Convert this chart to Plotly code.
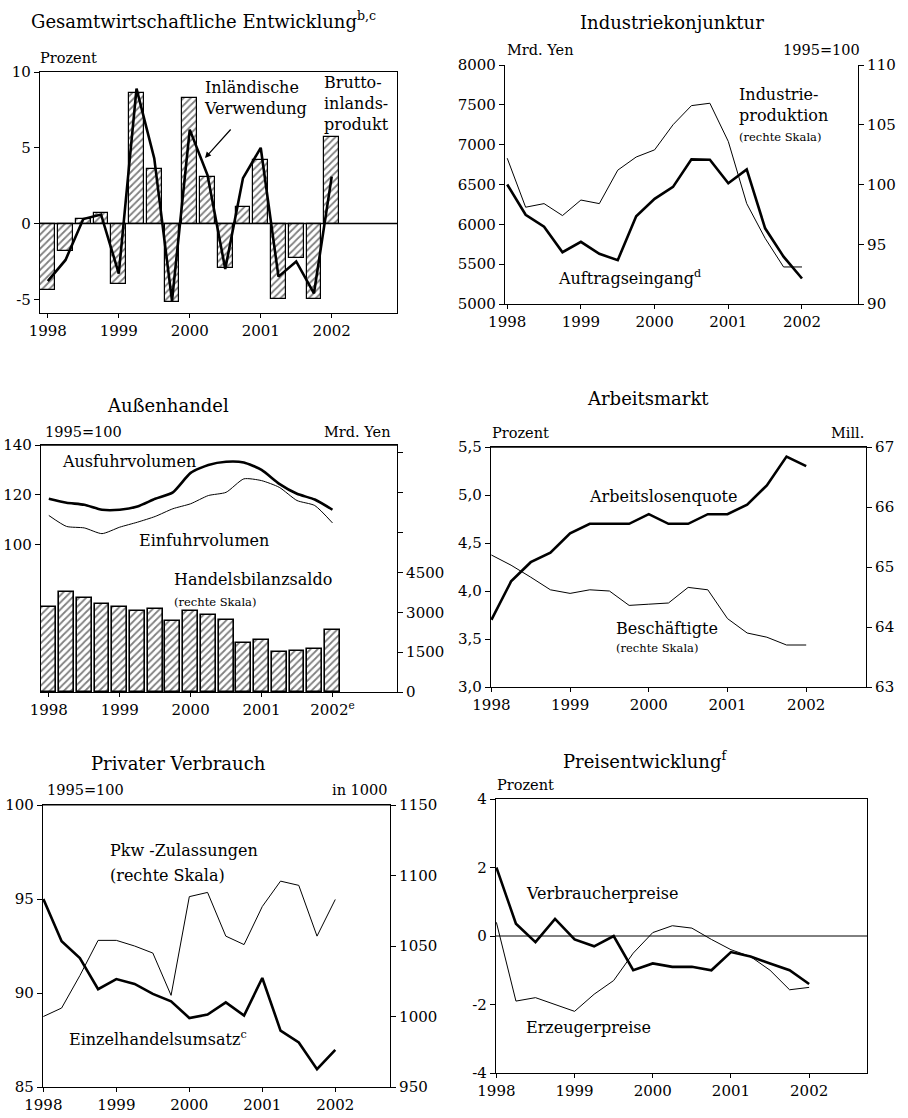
import plotly.graph_objects as go

# ---------------- DATA ----------------
quarters = [1998.0, 1998.25, 1998.5, 1998.75, 1999.0, 1999.25, 1999.5, 1999.75,
            2000.0, 2000.25, 2000.5, 2000.75, 2001.0, 2001.25, 2001.5, 2001.75, 2002.0]
years = [1998, 1999, 2000, 2001, 2002]

# Panel 1: Gesamtwirtschaftliche Entwicklung (Prozent)
bip = [-4.4, -1.8, 0.3, 0.7, -4.0, 8.6, 3.6, -5.2, 8.3, 3.1, -2.9, 1.1, 4.2, -5.0, -2.3, -5.0, 5.7]
inl_verwendung = [-3.8, -2.4, 0.3, 0.6, -3.3, 8.9, 4.3, -5.1, 6.2, 3.2, -3.0, 3.0, 5.0, -3.5, -2.5, -4.6, 3.1]

# Panel 2: Industriekonjunktur
auftragseingang = [6500, 6120, 5970, 5650, 5780, 5630, 5550, 6100, 6320, 6470, 6815, 6810, 6515, 6690, 5950, 5595, 5320]
industrieproduktion = [102.2, 98.1, 98.4, 97.4, 98.7, 98.4, 101.2, 102.3, 102.9, 105.0, 106.6, 106.8, 103.6, 98.4, 95.5, 93.1, 93.1]

# Panel 3: Außenhandel
ausfuhrvolumen = [118.4, 116.8, 116.0, 114.0, 114.0, 115.3, 118.4, 121.0, 128.8, 132.0, 133.3, 133.0, 130.0, 124.4, 120.4, 118.1, 114.0]
einfuhrvolumen = [111.7, 107.3, 106.7, 104.4, 107.0, 109.0, 111.3, 114.4, 116.4, 119.7, 121.0, 126.4, 125.7, 123.0, 117.7, 115.7, 108.7]
handelsbilanzsaldo = [3190, 3750, 3540, 3310, 3190, 3060, 3125, 2660, 3060, 2910, 2710, 1840, 1960, 1525, 1560, 1625, 2350]

# Panel 4: Arbeitsmarkt
arbeitslosenquote = [3.7, 4.1, 4.3, 4.4, 4.6, 4.7, 4.7, 4.7, 4.8, 4.7, 4.7, 4.8, 4.8, 4.9, 5.1, 5.4, 5.3]
beschaeftigte = [65.2, 65.03, 64.83, 64.62, 64.56, 64.62, 64.6, 64.36, 64.38, 64.4, 64.66, 64.62, 64.14, 63.9, 63.83, 63.7, 63.7]

# Panel 5: Privater Verbrauch
einzelhandelsumsatz = [95.0, 92.75, 91.86, 90.2, 90.74, 90.48, 89.95, 89.56, 88.67, 88.85, 89.5, 88.8, 90.8, 88.0, 87.37, 85.95, 86.97]
pkw_zulassungen = [1000, 1006, 1029, 1054, 1054, 1050, 1045, 1015, 1085, 1088, 1057, 1051, 1078, 1096, 1093, 1057, 1083]

# Panel 6: Preisentwicklung
verbraucherpreise = [2.0, 0.36, -0.18, 0.5, -0.1, -0.3, 0.0, -1.0, -0.8, -0.9, -0.9, -1.0, -0.47, -0.6, -0.8, -1.0, -1.4]
erzeugerpreise = [0.4, -1.9, -1.8, -2.0, -2.2, -1.7, -1.3, -0.5, 0.1, 0.3, 0.23, -0.1, -0.4, -0.6, -1.0, -1.57, -1.5]

# ---------------- LAYOUT HELPERS ----------------
W, H = 908, 1118
FONT = "DejaVu Serif"


def px(x):
    return x / W


def py(y):
    return 1 - y / H


def xd(x0, x1):
    return [px(x0), px(x1)]


def yd(y0, y1):
    return [py(y1), py(y0)]


tickfont = dict(family=FONT, size=15, color="black")
year_text = [str(y) for y in years]

fig = go.Figure()

THICK = 2.6
THIN = 1.0

# Panel 1
fig.add_trace(go.Bar(x=quarters, y=bip, width=0.21, xaxis="x", yaxis="y",
                     marker=dict(color="white", line=dict(color="black", width=1.2),
                                 pattern=dict(shape="/", fgcolor="black", bgcolor="white", size=5, solidity=0.35)),
                     showlegend=False))
fig.add_trace(go.Scatter(x=quarters, y=inl_verwendung, mode="lines", xaxis="x", yaxis="y",
                         line=dict(color="black", width=THICK), showlegend=False))

# Panel 2
fig.add_trace(go.Scatter(x=quarters, y=auftragseingang, mode="lines", xaxis="x2", yaxis="y2",
                         line=dict(color="black", width=THICK), showlegend=False))
fig.add_trace(go.Scatter(x=quarters, y=industrieproduktion, mode="lines", xaxis="x2", yaxis="y3",
                         line=dict(color="black", width=THIN), showlegend=False))

# Panel 3
fig.add_trace(go.Bar(x=quarters, y=handelsbilanzsaldo, width=0.21, xaxis="x3", yaxis="y5",
                     marker=dict(color="white", line=dict(color="black", width=1.6),
                                 pattern=dict(shape="/", fgcolor="black", bgcolor="white", size=5, solidity=0.35)),
                     showlegend=False))
fig.add_trace(go.Scatter(x=quarters, y=ausfuhrvolumen, mode="lines", xaxis="x3", yaxis="y4",
                         line=dict(color="black", width=THICK, shape="spline", smoothing=0.6), showlegend=False))
fig.add_trace(go.Scatter(x=quarters, y=einfuhrvolumen, mode="lines", xaxis="x3", yaxis="y4",
                         line=dict(color="black", width=THIN, shape="spline", smoothing=0.6), showlegend=False))

# Panel 4
fig.add_trace(go.Scatter(x=quarters, y=arbeitslosenquote, mode="lines", xaxis="x4", yaxis="y6",
                         line=dict(color="black", width=THICK), showlegend=False))
fig.add_trace(go.Scatter(x=quarters, y=beschaeftigte, mode="lines", xaxis="x4", yaxis="y7",
                         line=dict(color="black", width=THIN), showlegend=False))

# Panel 5
fig.add_trace(go.Scatter(x=quarters, y=einzelhandelsumsatz, mode="lines", xaxis="x5", yaxis="y8",
                         line=dict(color="black", width=THICK), showlegend=False))
fig.add_trace(go.Scatter(x=quarters, y=pkw_zulassungen, mode="lines", xaxis="x5", yaxis="y9",
                         line=dict(color="black", width=THIN), showlegend=False))

# Panel 6
fig.add_trace(go.Scatter(x=quarters, y=verbraucherpreise, mode="lines", xaxis="x6", yaxis="y10",
                         line=dict(color="black", width=THICK), showlegend=False))
fig.add_trace(go.Scatter(x=quarters, y=erzeugerpreise, mode="lines", xaxis="x6", yaxis="y10",
                         line=dict(color="black", width=THIN), showlegend=False))


def xaxis(domain, rng, anchor, ticktext=None, mirror=True):
    return dict(domain=domain, range=rng, anchor=anchor, tickmode="array", tickvals=years,
                ticktext=ticktext or year_text, ticks="outside", ticklen=4, tickwidth=1,
                tickcolor="black", showline=True, linecolor="black", linewidth=1.2,
                mirror=mirror, showgrid=False, zeroline=False, tickfont=tickfont,
                automargin=False)


def yaxis(domain, rng, anchor, tickvals, ticktext=None, side="left", overlaying=None, showline=True):
    d = dict(domain=domain, range=rng, anchor=anchor, side=side, tickmode="array",
             tickvals=tickvals, ticktext=ticktext if ticktext is not None else [str(v) for v in tickvals],
             ticks="outside", ticklen=5, tickwidth=1, tickcolor="black",
             showline=showline, linecolor="black", linewidth=1.2, showgrid=False,
             zeroline=False, tickfont=tickfont, automargin=False)
    if overlaying:
        d["overlaying"] = overlaying
    return d


p1x, p1y = xd(40, 397), yd(72, 313)
p2x, p2y = xd(505, 858), yd(65, 304)
p3x, p3y = xd(41, 397), yd(445, 692)
p4x, p4y = xd(491, 866), yd(447, 687)
p5x, p5y = xd(43, 390), yd(805, 1087)
p6x, p6y = xd(496, 867), yd(799, 1073)

layout = dict(
    width=W, height=H, margin=dict(l=0, r=0, t=0, b=0, autoexpand=False),
    paper_bgcolor="white", plot_bgcolor="white", bargap=0,
    font=dict(family=FONT, color="black"),
    xaxis=xaxis(p1x, [1997.89, 2002.92], "y"),
    yaxis=yaxis(p1y, [-5.9, 10], "x", [-5, 0, 5, 10], ["-5", "0", "5", "10"]),
    xaxis2=xaxis(p2x, [1997.97, 2002.76], "y2", mirror=False),
    yaxis2=yaxis(p2y, [5000, 8000], "x2", [5000, 5500, 6000, 6500, 7000, 7500, 8000]),
    yaxis3=yaxis(p2y, [90, 110], "x2", [90, 95, 100, 105, 110], side="right", overlaying="y2"),
    xaxis3=xaxis(p3x, [1997.89, 2002.91], "y4",
                 ticktext=["1998", "1999", "2000", "2001", "2002<sup>e</sup>"]),
    yaxis4=yaxis(p3y, [40.8, 140], "x3", [100, 120, 140]),
    yaxis5=yaxis(p3y, [0, 9300], "x3", [0, 1500, 3000, 4500, 6000, 7500, 9000],
                 ["0", "1500", "3000", "4500", "", "", ""], side="right", overlaying="y4"),
    xaxis4=xaxis(p4x, [1997.995, 2002.76], "y6"),
    yaxis6=yaxis(p4y, [3.0, 5.5], "x4", [3.0, 3.5, 4.0, 4.5, 5.0, 5.5],
                 ["3,0", "3,5", "4,0", "4,5", "5,0", "5,5"]),
    yaxis7=yaxis(p4y, [63, 67], "x4", [63, 64, 65, 66, 67], side="right", overlaying="y6"),
    xaxis5=xaxis(p5x, [1997.995, 2002.75], "y8"),
    yaxis8=yaxis(p5y, [85, 100], "x5", [85, 90, 95, 100]),
    yaxis9=yaxis(p5y, [950, 1150], "x5", [950, 1000, 1050, 1100, 1150], side="right", overlaying="y8"),
    xaxis6=xaxis(p6x, [1997.995, 2002.74], "y10"),
    yaxis10=yaxis(p6y, [-4, 4], "x6", [-4, -2, 0, 2, 4]),
)

fig.update_layout(**layout)
fig.update_layout(yaxis10=dict(mirror=True))
fig.update_layout(yaxis=dict(mirror=True))

# zero lines (panel 1 and 6)
fig.add_shape(type="line", xref="x", yref="y", x0=1997.89, x1=2002.92, y0=0, y1=0,
              line=dict(color="black", width=1.5))
fig.add_shape(type="line", xref="x6", yref="y10", x0=1997.995, x1=2002.74, y0=0, y1=0,
              line=dict(color="black", width=1))
# top borders where shown
fig.add_shape(type="line", xref="paper", yref="paper", x0=px(491), x1=px(866), y0=py(447), y1=py(447),
              line=dict(color="black", width=1.5))
fig.add_shape(type="line", xref="paper", yref="paper", x0=px(41), x1=px(397), y0=py(445), y1=py(445),
              line=dict(color="black", width=1.5))
fig.add_shape(type="line", xref="paper", yref="paper", x0=px(43), x1=px(390), y0=py(805), y1=py(805),
              line=dict(color="black", width=1.2))

ann = []


def text(x, y, s, size=16, xanchor="left", yanchor="middle", bold=False):
    if bold:
        s = "<b>" + s + "</b>"
    ann.append(dict(x=px(x), y=py(y), xref="paper", yref="paper", text=s, showarrow=False,
                    xanchor=xanchor, yanchor=yanchor, align="left",
                    font=dict(family=FONT, size=size, color="black")))


# Titles
text(203, 20, "Gesamtwirtschaftliche Entwicklung<sup>b,c</sup>", 18, "center")
text(672, 22, "Industriekonjunktur", 18, "center")
text(168, 405, "Außenhandel", 18, "center")
text(648, 398, "Arbeitsmarkt", 18, "center")
text(178, 763, "Privater Verbrauch", 18, "center")
text(645, 760, "Preisentwicklung<sup>f</sup>", 18, "center")

# Units
text(38, 58, "Prozent", 14.5)
text(505, 50, "Mrd. Yen", 14.5)
text(862, 50, "1995=100", 14.5, "right")
text(43, 432, "1995=100", 14.5)
text(393, 432, "Mrd. Yen", 14.5, "right")
text(490, 433, "Prozent", 14.5)
text(866, 433, "Mill.", 14.5, "right")
text(45, 790, "1995=100", 14.5)
text(390, 790, "in 1000", 14.5, "right")
text(495, 785, "Prozent", 14.5)

# Series labels
text(202, 98, "Inländische<br>Verwendung", 16)
text(322, 104, "Brutto-<br>inlands-<br>produkt", 16)
ann.append(dict(x=px(205), y=py(158), ax=27, ay=-30, xref="paper", yref="paper",
                axref="pixel", ayref="pixel", showarrow=True, arrowhead=2, arrowsize=1,
                arrowwidth=1.2, arrowcolor="black", text=""))
text(737, 105, "Industrie-<br>produktion", 16)
text(737, 137, "(rechte Skala)", 11.5)
text(556, 278, "Auftragseingang<sup>d</sup>", 16)
text(60, 462, "Ausfuhrvolumen", 16)
text(137, 540, "Einfuhrvolumen", 16)
text(172, 579, "Handelsbilanzsaldo", 16)
text(172, 602, "(rechte Skala)", 11.5)
text(587, 496, "Arbeitslosenquote", 16)
text(614, 628, "Beschäftigte", 16)
text(614, 648, "(rechte Skala)", 11.5)
text(108, 850, "Pkw -Zulassungen", 16)
text(108, 875, "(rechte Skala)", 16)
text(67, 1038, "Einzelhandelsumsatz<sup>c</sup>", 16)
text(524, 893, "Verbraucherpreise", 16)
text(524, 1027, "Erzeugerpreise", 16)

fig.update_layout(annotations=ann)
fig.write_html("out.html", config={"displayModeBar": False},
               post_script="document.body.style.margin='0';document.body.style.overflow='hidden';")
